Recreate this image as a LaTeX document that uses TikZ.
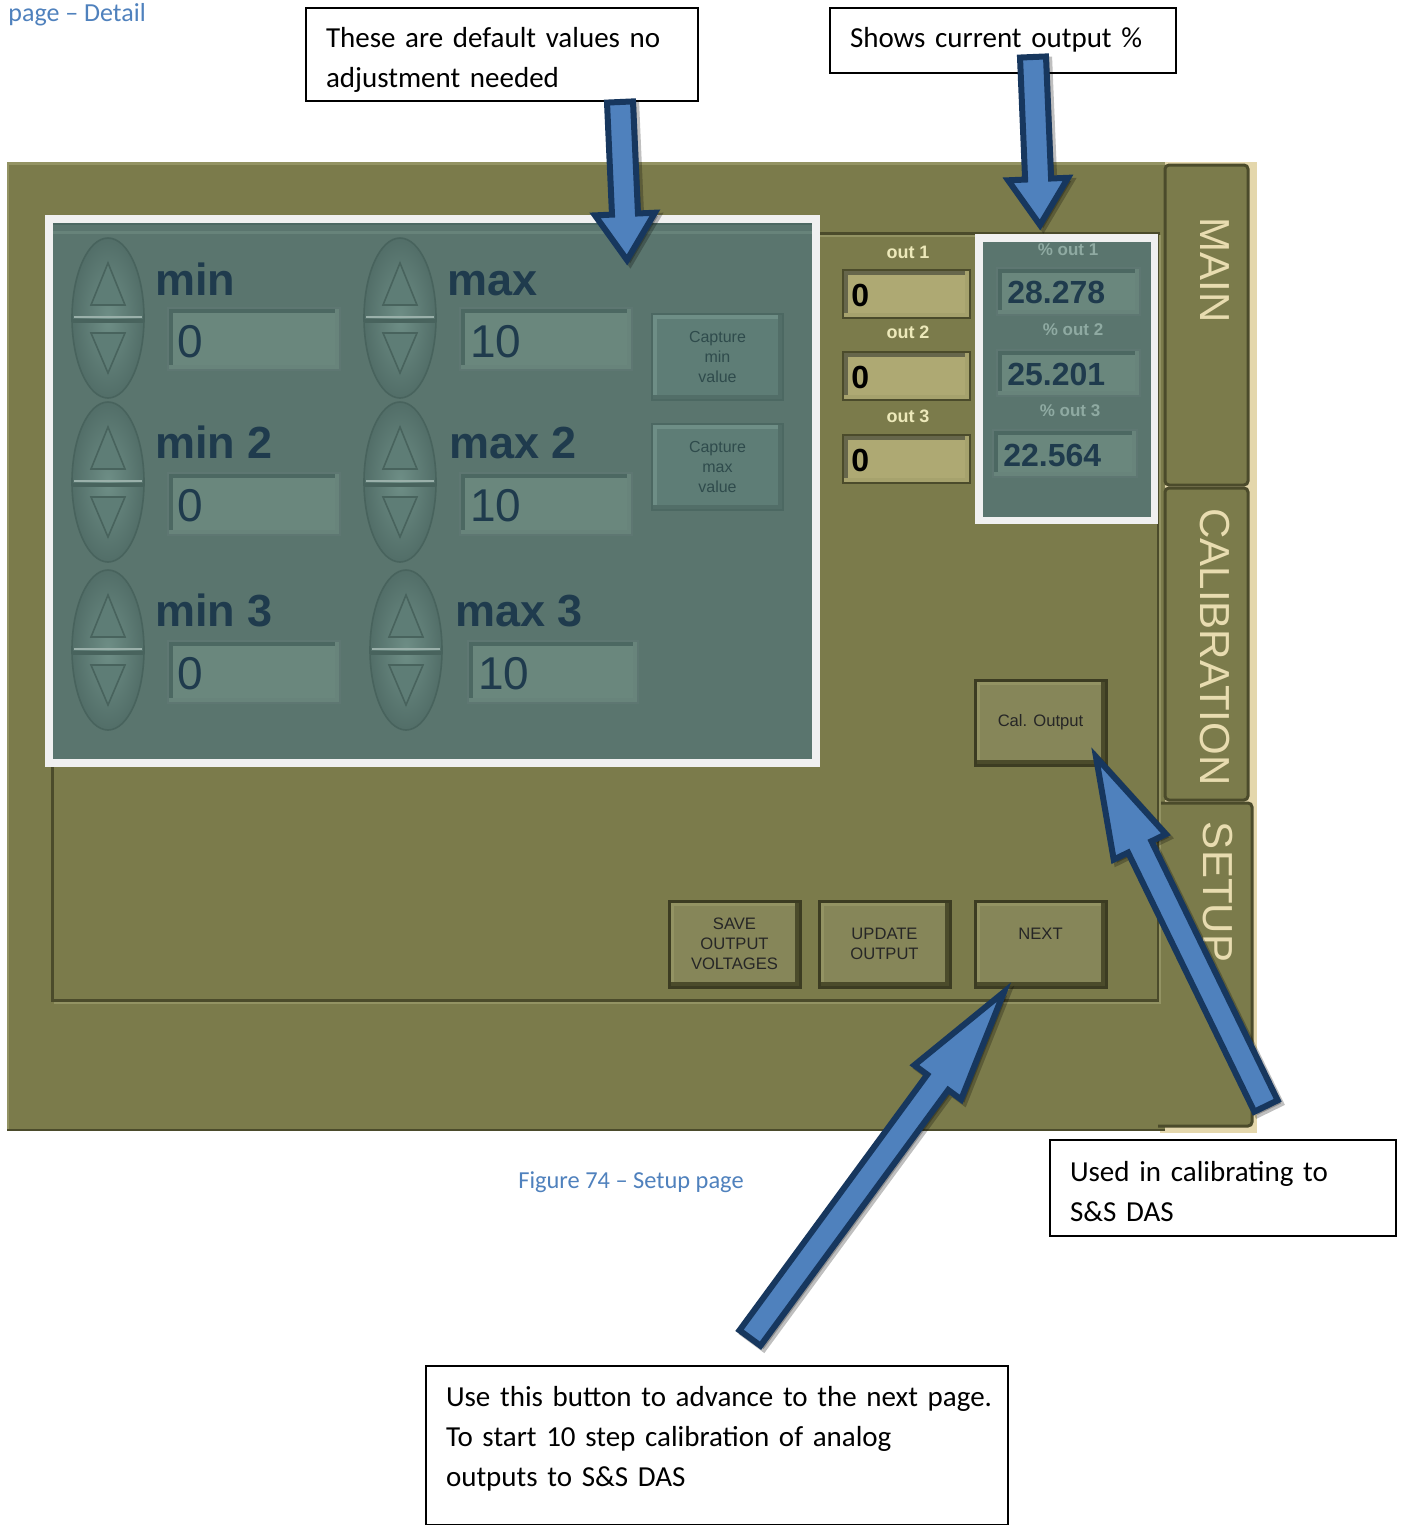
\documentclass[tikz,border=0pt]{standalone}
\usepackage{fontspec}
\setmainfont{Carlito}
\newfontfamily\uifont{Liberation Sans}
\usetikzlibrary{calc}

\definecolor{olive}{HTML}{7B7B4B}
\definecolor{olivehi}{HTML}{939363}
\definecolor{olivedk}{HTML}{4B4B2B}
\definecolor{beige}{HTML}{E4D7AC}
\definecolor{tealbg}{HTML}{5A756E}
\definecolor{tealbox}{HTML}{6A877D}
\definecolor{tealedge}{HTML}{4C6862}
\definecolor{whiteframe}{HTML}{F0F0F0}
\definecolor{navy}{HTML}{1F3B4D}
\definecolor{khaki}{HTML}{AEA973}
\definecolor{outlbl}{HTML}{EDE9BA}
\definecolor{pctlbl}{HTML}{8FAAA2}
\definecolor{capblue}{HTML}{4F81BD}
\definecolor{arrowfill}{HTML}{4F81BD}
\definecolor{arrowline}{HTML}{17375E}
\definecolor{tabtext}{HTML}{E8DCB0}
\definecolor{captext}{HTML}{2F4B4C}
\definecolor{spinhi}{HTML}{6E8E86}
\definecolor{spinlo}{HTML}{526E68}
\definecolor{spintri}{HTML}{5E7D76}
\definecolor{spinedge}{HTML}{48635D}

% outline of a block arrow from tail #1 to tip #2:
% half shaft width #3, half head width #4, head length #5
\newcommand\arrowoutline[5]{%
  ($(#1)!#3!90:(#2)$) -- ($($(#2)!#5!(#1)$)!#3!90:(#2)$) -- ($($(#2)!#5!(#1)$)!#4!90:(#2)$) --
  (#2) --
  ($($(#2)!#5!(#1)$)!#4!-90:(#2)$) -- ($($(#2)!#5!(#1)$)!#3!-90:(#2)$) -- ($(#1)!#3!-90:(#2)$) -- cycle}
\newcommand\calloutarrow[5]{%
  \draw[arrowshadow] \arrowoutline{#1}{#2}{#3}{#4}{#5};
  \draw[blockarrow] \arrowoutline{#1}{#2}{#3}{#4}{#5};
}

\tikzset{
  callout/.style={draw=black, line width=1pt, anchor=north west, inner xsep=10pt,
    inner ysep=0pt, align=left, font=\fontsize{14.5}{20}\selectfont, text height=20pt},
  blockarrow/.style={fill=arrowfill, draw=arrowline, line width=3pt, line join=miter, miter limit=10},
  arrowshadow/.style={fill=black, draw=black, opacity=0.25, line width=3pt, line join=miter,
    miter limit=10, transform canvas={shift={(1.6pt,-1.6pt)}}},
  bevel/.style n args={2}{path picture={
      \draw[line width=5pt, #1] (path picture bounding box.south west) --
        (path picture bounding box.north west) -- (path picture bounding box.north east);
      \draw[line width=5pt, #2] (path picture bounding box.north east) --
        (path picture bounding box.south east) -- (path picture bounding box.south west);}},
  olivebtn/.style={rectangle, fill=olive!92!white, draw=olivedk!80!black, line width=1.5pt,
    bevel={olivehi}{olivedk}, inner sep=0pt, minimum width=65.5pt, minimum height=43pt,
    align=center, font=\uifont\fontsize{8.3}{10}\selectfont, text=black!85},
  tealbtn/.style={rectangle, fill=spintri, draw=tealedge, line width=1.2pt,
    bevel={spinhi}{spinlo}, inner sep=0pt, minimum width=65.5pt, minimum height=43pt,
    align=center, font=\uifont\fontsize{8}{10}\selectfont, text=captext},
  valbox/.style={rectangle, fill=tealbox, draw=tealedge!90, line width=1pt,
    bevel={tealedge}{tealbox!85!tealbg}, inner sep=0pt, minimum width=86pt, minimum height=31pt},
  khakibox/.style={rectangle, fill=khaki, draw=olivedk, line width=0.8pt,
    bevel={olivedk!85}{khaki!85!olive}, inner sep=0pt, minimum width=63.5pt, minimum height=24pt},
  pctbox/.style={rectangle, fill=tealbox, draw=tealedge!90, line width=0.8pt,
    bevel={tealedge}{tealbox!85!tealbg}, inner sep=0pt, minimum width=71.5pt, minimum height=23.5pt},
  spinlabel/.style={anchor=base west, inner sep=0pt, text=navy, font=\uifont\bfseries\fontsize{22.5}{26}\selectfont},
  valtext/.style={anchor=base west, inner sep=0pt, text=navy, font=\uifont\fontsize{23}{26}\selectfont},
  outlabel/.style={inner sep=0pt, text=outlbl, font=\uifont\bfseries\fontsize{9}{10}\selectfont},
  outval/.style={anchor=base west, inner sep=0pt, text=black, font=\uifont\bfseries\fontsize{16}{18}\selectfont},
  pctlabel/.style={inner sep=0pt, text=pctlbl, font=\uifont\bfseries\fontsize{8.5}{10}\selectfont},
  pctval/.style={anchor=base west, inner sep=0pt, text=navy, font=\uifont\bfseries\fontsize{16}{18}\selectfont},
  tabtitle/.style={rotate=-90, inner sep=0pt, text=tabtext, font=\uifont\fontsize{21}{24}\selectfont},
  tabshape/.style={fill=olive, draw=olivedk, line width=1.5pt, rounded corners=2pt},
  spinner/.pic={
    \shade[inner color=spinhi, outer color=spinlo] (0,0) ellipse (36 and 80);
    \draw[spinedge, line width=0.8pt] (0,0) ellipse (36 and 80);
    \draw[spinedge, line width=1.6pt] (-36,3) -- (36,3);
    \draw[spinhi!70!white, line width=0.8pt] (-34,-1) -- (34,-1);
    \draw[spinedge, line width=0.8pt, fill=spintri] (0,-55) -- (-17,-13) -- (17,-13) -- cycle;
    \draw[spinedge, line width=0.8pt, fill=spintri] (-17,15) -- (17,15) -- (0,55) -- cycle;
  },
}

\begin{document}
\begin{tikzpicture}[x=0.5pt,y=-0.5pt]
\useasboundingbox (0,0) rectangle (1401,1525);
\fill[white] (0,0) rectangle (1401,1525);

% heading fragment and figure caption
\node[anchor=base west, inner sep=0pt, text=capblue, font=\fontsize{13}{15}\selectfont] (pagehead) at (8,22) {page – Detail};
\node[anchor=base, inner sep=0pt, text=capblue, font=\fontsize{12.2}{14}\selectfont] (figcap) at (631,1188) {Figure 74 – Setup page};

% window body
\fill[beige] (1160,162) rectangle (1257,1133);
\fill[olive] (7,162) rectangle (1165,1130);
\draw[olivehi, line width=1.5pt] (7,163.5) -- (1165,163.5);
\draw[olivehi, line width=1pt] (8,163) -- (8,1130);
\draw[olivedk, line width=1pt] (7,1129.5) -- (1165,1129.5);

% tabs
\draw[tabshape] (1165,165) rectangle (1248,485);
\draw[tabshape] (1165,488) rectangle (1248,800);
\fill[olive] (1158,803) rectangle (1252,1126);
\draw[olivedk, line width=1.5pt, rounded corners=2pt] (1158,803) -- (1252,803) -- (1252,1126) -- (1158,1126);
\node[tabtitle] (tabmain) at (1215,270) {MAIN};
\node[tabtitle] (tabcal) at (1215,647) {CALIBRATION};
\node[tabtitle] (tabsetup) at (1218,892) {SETUP};

% content frame of the setup page
\draw[olivedk, line width=1.5pt] (52,233) rectangle (1158,1000);
\draw[olivehi, line width=1pt] (820,235.5) -- (1156,235.5);
\draw[olivehi, line width=1pt] (54,1002.5) -- (1160,1002.5) -- (1160,235);

% calibration limits panel
\fill[whiteframe] (45,215) rectangle (820,767);
\fill[tealbg] (53,223) rectangle (812,759);
\draw[tealedge, line width=1pt] (53,224) -- (812,224);
\draw[tealbox!80!tealbg, line width=1.5pt] (53,232) -- (812,232);

\pic at (108,318) {spinner};
\pic at (108,482) {spinner};
\pic at (108,650) {spinner};
\pic at (400,318) {spinner};
\pic at (400,482) {spinner};
\pic at (406,650) {spinner};

\node[spinlabel] (lmin1) at (155,295) {min};
\node[spinlabel] (lmax1) at (447,295) {max};
\node[spinlabel] (lmin2) at (155,458) {min 2};
\node[spinlabel] (lmax2) at (449,458) {max 2};
\node[spinlabel] (lmin3) at (155,626) {min 3};
\node[spinlabel] (lmax3) at (455,626) {max 3};

\node[valbox] (bmin1) at (254,339) {};
\node[valbox] (bmax1) at (546,339) {};
\node[valbox] (bmin2) at (254,503.5) {};
\node[valbox] (bmax2) at (546,503.5) {};
\node[valbox] (bmin3) at (254,671.5) {};
\node[valbox, minimum width=85pt] (bmax3) at (553,671.5) {};
\node[valtext] (vmin1) at (177,357) {0};
\node[valtext] (vmax1) at (470,357) {10};
\node[valtext] (vmin2) at (177,521) {0};
\node[valtext] (vmax2) at (470,521) {10};
\node[valtext] (vmin3) at (177,689) {0};
\node[valtext] (vmax3) at (478,689) {10};

\node[tealbtn] (capmin) at (717.5,357) {Capture\\min\\value};
\node[tealbtn] (capmax) at (717.5,467) {Capture\\max\\value};

% output readouts
\node[outlabel] (lout1) at (908,252) {out 1};
\node[outlabel] (lout2) at (908,332) {out 2};
\node[outlabel] (lout3) at (908,416) {out 3};
\node[khakibox] (kout1) at (906.5,294) {};
\node[khakibox] (kout2) at (906.5,376) {};
\node[khakibox] (kout3) at (906.5,459) {};
\node[outval] (vout1) at (851,306) {0};
\node[outval] (vout2) at (851,388) {0};
\node[outval] (vout3) at (851,471) {0};

% percentage panel
\fill[whiteframe] (975,234) rectangle (1158,524);
\fill[tealbg] (983,242) rectangle (1151,517);
\node[pctlabel] (lpct1) at (1068,250) {\% out 1};
\node[pctlabel] (lpct2) at (1073,330) {\% out 2};
\node[pctlabel] (lpct3) at (1070,411) {\% out 3};
\node[pctbox] (bpct1) at (1068.5,291.5) {};
\node[pctbox, minimum height=23pt] (bpct2) at (1068.5,373) {};
\node[pctbox, minimum width=72pt] (bpct3) at (1065,453.5) {};
\node[pctval] (vpct1) at (1007,303) {28.278};
\node[pctval] (vpct2) at (1007,385) {25.201};
\node[pctval] (vpct3) at (1003,466) {22.564};

% command buttons
\node[olivebtn, minimum height=42.5pt] (calout) at (1040.5,722.5) {Cal. Output};
\node[olivebtn] (save) at (734.5,944) {SAVE\\OUTPUT\\VOLTAGES};
\node[olivebtn] (update) at (884.5,944) {UPDATE\\OUTPUT};
\node[olivebtn, text height=6pt, text depth=11pt] (next) at (1040.5,944) {NEXT};

% callouts
\node[callout, text width=176pt, text depth=26.5pt] (c1) at (305,7)
  {\mbox{These are default values no}\\\mbox{adjustment needed}};
\node[callout, text width=153pt, text depth=12.5pt] (c2) at (829,7)
  {\mbox{Shows current output \%}};
\node[callout, text width=153pt, text height=20.5pt, text depth=27.5pt] (c3) at (1049,1139)
  {\mbox{Used in calibrating to}\\\mbox{S\&S DAS}};
\node[callout, text width=271pt, text depth=59.5pt] (c4) at (425,1365)
  {\mbox{Use this button to advance to the next page.}\\\mbox{To start 10 step calibration of analog}\\\mbox{outputs to S\&S DAS}};

% pointer arrows from the callouts to the controls they describe
\coordinate (p1) at (620,102);
\coordinate (q1) at (627,260);
\coordinate (p2) at (1033,57);
\coordinate (q2) at (1040,225);
\coordinate (p3) at (1266,1106);
\coordinate (q3) at (1096,757);
\coordinate (p4) at (750,1338);
\coordinate (q4) at (1004,992);
\calloutarrow{p1}{q1}{6.5pt}{15pt}{23pt}
\calloutarrow{p2}{q2}{6.5pt}{15pt}{23pt}
\calloutarrow{p3}{q3}{6.5pt}{14.5pt}{50pt}
\calloutarrow{p4}{q4}{6.5pt}{14.5pt}{56pt}
\end{tikzpicture}
\end{document}
